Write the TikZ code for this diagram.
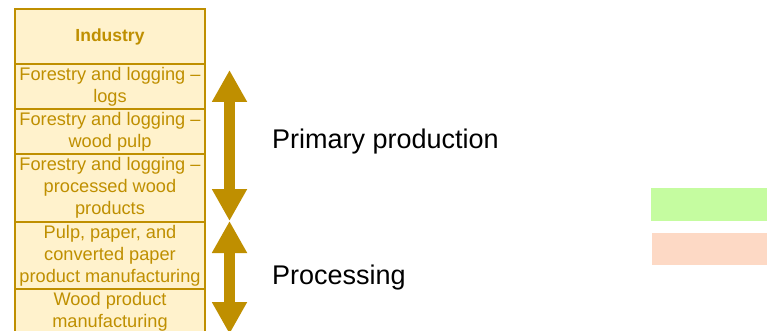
\documentclass[tikz,border=0pt]{standalone}
\usepackage{fontspec}
\setmainfont{Liberation Sans}
\usetikzlibrary{arrows.meta,positioning}

\definecolor{gold}{RGB}{191,143,0}
\definecolor{cellfill}{RGB}{255,242,204}
\definecolor{greenbar}{RGB}{197,252,160}
\definecolor{salmonbar}{RGB}{253,217,197}

\tikzset{
    cell/.style={draw=gold, line width=1.6pt, fill=cellfill, text=gold,
        font=\fontsize{18.2}{22}\selectfont, align=center,
        minimum width=190pt, inner sep=0pt, outer sep=0pt},
    stagearrow/.style={draw=gold, line width=10.5pt,
        {Triangle[width=33pt,length=32pt]}-{Triangle[width=33pt,length=32pt]}},
    stagelabel/.style={font=\fontsize{27}{30}\selectfont, anchor=base west, inner sep=0pt}
}

\begin{document}
\begin{tikzpicture}[x=1pt,y=-1pt]
    \useasboundingbox (0,0) rectangle (767,331);
    \clip (0,0) rectangle (767,331);

    % Industry column
    \node[cell, minimum height=55pt, anchor=north west] (head) at (15,9) {\fontsize{17.5}{22}\selectfont\bfseries Industry};
    \node[cell, minimum height=45pt, below=0pt of head] (logs) {Forestry and logging –\\logs};
    \node[cell, minimum height=45pt, below=0pt of logs] (pulp) {Forestry and logging –\\wood pulp};
    \node[cell, minimum height=68pt, below=0pt of pulp] (wood) {Forestry and logging –\\processed wood\\products};
    \node[cell, minimum height=67pt, below=0pt of wood] (paper) {Pulp, paper, and\\converted paper\\product manufacturing};
    \node[cell, minimum height=45pt, below=0pt of paper] (woodprod) {Wood product\\manufacturing};

    % Stage arrows
    \coordinate (primary top) at (229.5,70);
    \coordinate (primary bot) at (229.5,221);
    \coordinate (process bot) at (229.5,334);
    \draw[stagearrow] (primary top) -- (primary bot);
    \draw[stagearrow] (primary bot) -- (process bot);

    % Stage names
    \node[stagelabel] (primary) at (272,149) {Primary production};
    \node[stagelabel] (processing) at (272,284.3) {Processing};

    % Colour bars on the right
    \fill[greenbar] (651,188) rectangle (767,221);
    \fill[salmonbar] (652,233) rectangle (767,265);
\end{tikzpicture}
\end{document}
